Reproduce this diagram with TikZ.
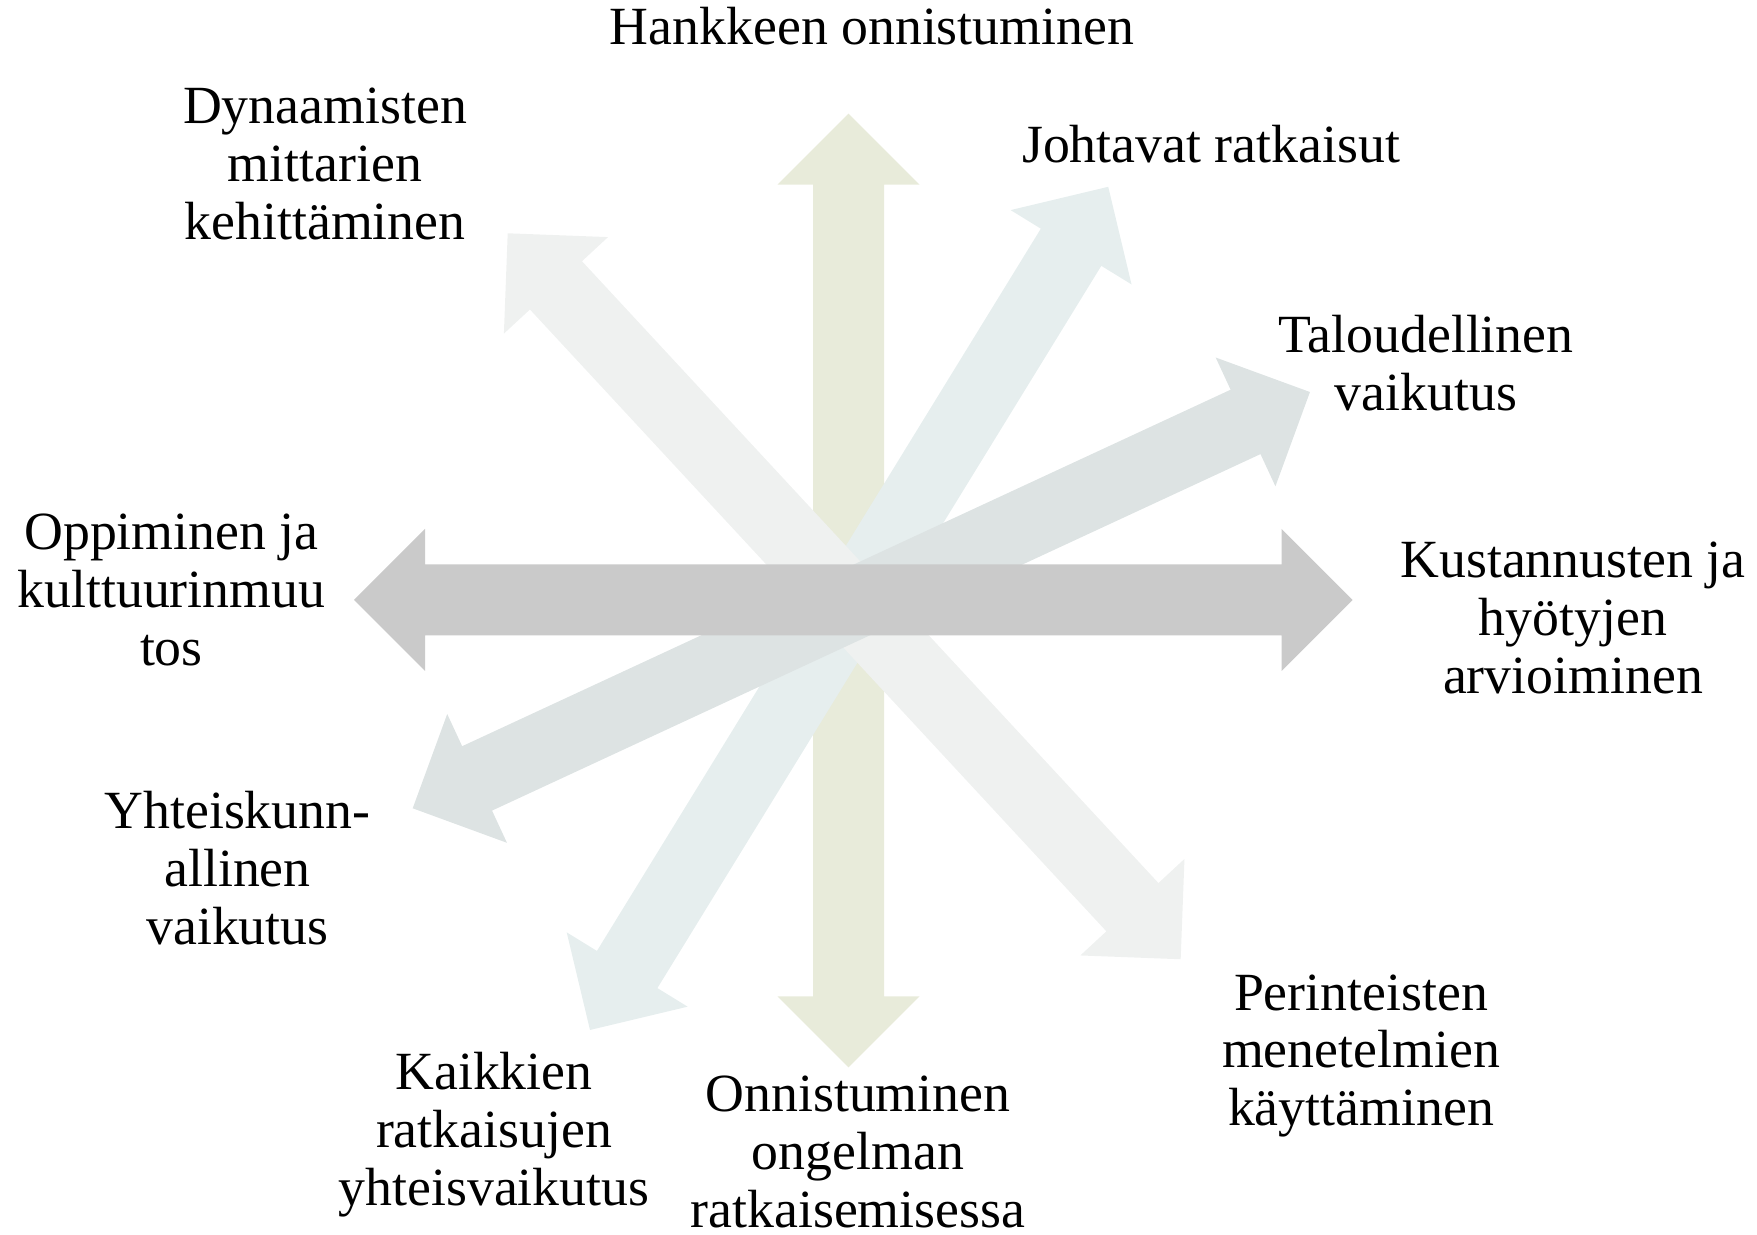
\documentclass[tikz,border=0pt]{standalone}
\usepackage{fontspec}
\setmainfont{Liberation Serif}
\usetikzlibrary{calc,positioning}

\definecolor{pystyvari}{HTML}{E8EBDA}
\definecolor{vaakavari}{HTML}{CACACA}
\definecolor{talousvari}{HTML}{DDE3E3}
\definecolor{johtovari}{HTML}{E6EEEE}
\definecolor{mittarivari}{HTML}{EFF1F0}

\newcommand{\headlen}{0.71cm}
\newcommand{\headhalf}{0.71cm}
\newcommand{\shafthalf}{0.355cm}
\newcommand{\blockarrow}[3]{%
  \fill[#3] let \p1 = ($(#2)-(#1)$), \n1 = {atan2(\y1,\x1)}, \n2 = {veclen(\x1,\y1)} in
    [shift={(#1)}, rotate=\n1]
    (0,0) -- (\headlen,\headhalf) -- (\headlen,\shafthalf) -- (\n2-\headlen,\shafthalf)
    -- (\n2-\headlen,\headhalf) -- (\n2,0) -- (\n2-\headlen,-\headhalf)
    -- (\n2-\headlen,-\shafthalf) -- (\headlen,-\shafthalf) -- (\headlen,-\headhalf) -- cycle;}

\tikzset{teksti/.style={align=center, font=\fontsize{15.3pt}{16.5pt}\selectfont}}

\begin{document}
\begin{tikzpicture}
    \useasboundingbox (0,0) rectangle (17.57,12.35);
    % nuolten kärjet
    \coordinate (ylos) at (8.485,11.214);
    \coordinate (alas) at (8.485,1.677);
    \coordinate (vasen) at (3.54,6.35);
    \coordinate (oikea) at (13.525,6.35);
    \coordinate (talo1) at (4.127,4.267);
    \coordinate (talo2) at (13.10,8.43);
    \coordinate (johto1) at (5.90,2.05);
    \coordinate (johto2) at (11.083,10.483);
    \coordinate (mittari1) at (5.077,10.017);
    \coordinate (mittari2) at (11.807,2.757);
    \blockarrow{ylos}{alas}{pystyvari}
    \blockarrow{johto1}{johto2}{johtovari}
    \blockarrow{mittari1}{mittari2}{mittarivari}
    \blockarrow{talo1}{talo2}{talousvari}
    \blockarrow{vasen}{oikea}{vaakavari}
    % tekstit
    \node[teksti] (hanke) at (8.72,12.09) {Hankkeen onnistuminen};
    \node[teksti] (dynaamiset) at (3.25,10.71) {Dynaamisten\\mittarien\\kehittäminen};
    \node[teksti] (johtavat) at (12.11,10.91) {Johtavat ratkaisut};
    \node[teksti] (talous) at (14.26,8.715) {Taloudellinen\\vaikutus};
    \node[teksti] (oppiminen) at (1.714,6.455) {Oppiminen ja\\kulttuurinmuu\\tos};
    \node[teksti] (kustannus) at (15.73,6.175) {Kustannusten ja\\hyötyjen\\arvioiminen};
    \node[teksti] (yhteiskunta) at (2.375,3.67) {Yhteiskunn-\\allinen\\vaikutus};
    \node[teksti] (perinteiset) at (13.61,1.79) {Perinteisten\\menetelmien\\käyttäminen};
    \node[teksti] (kaikki) at (4.94,1.005) {Kaikkien\\ratkaisujen\\yhteisvaikutus};
    \node[teksti] (onnistuminen) at (8.58,0.83) {Onnistuminen\\ongelman\\ratkaisemisessa};
\end{tikzpicture}
\end{document}
